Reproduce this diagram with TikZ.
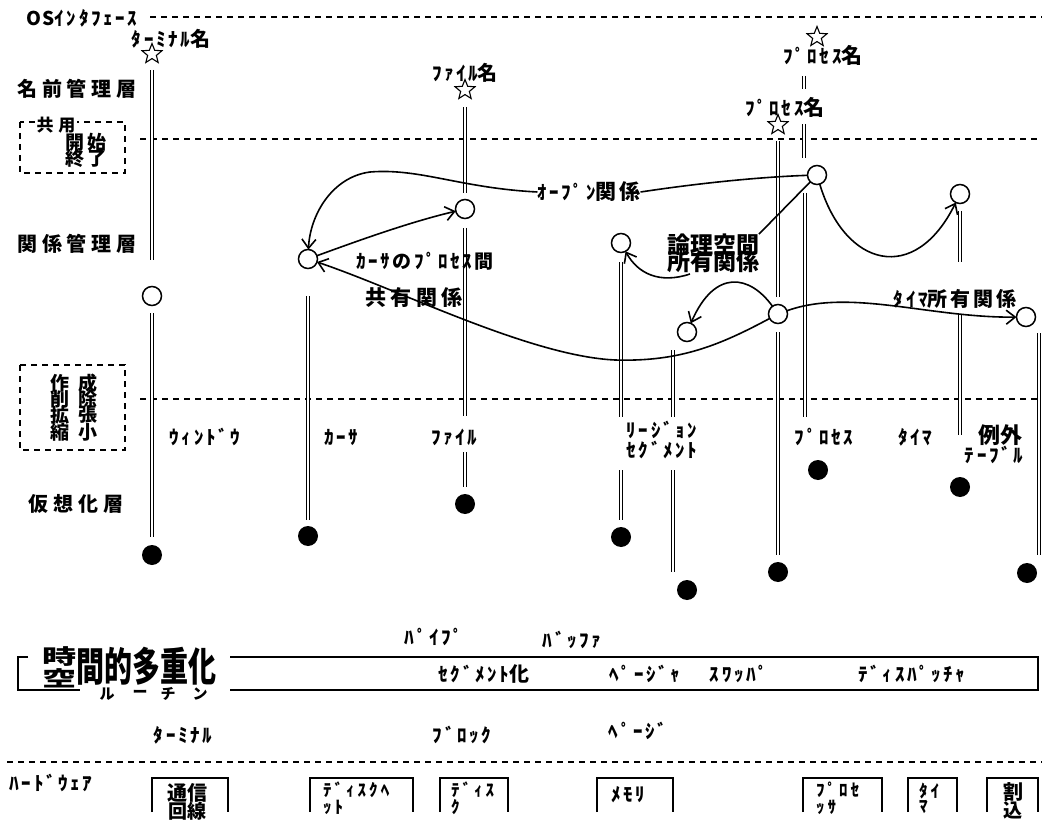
\documentclass[tikz,border=0pt]{standalone}
\usepackage{fontspec}
\newfontfamily\jp{Noto Sans CJK JP}
\usetikzlibrary{arrows.meta,shapes.geometric}
\newcommand\fsz[1]{\fontsize{#1}{#1}\selectfont}
\begin{document}
\begin{tikzpicture}[x=1pt,y=-1pt,
  every node/.style={inner sep=0pt, outer sep=0pt},
  dsh/.style={line width=1.6pt, dash pattern=on 6pt off 5pt},
  dl/.style={double, line width=1.2pt, double distance=2.4pt},
  oc/.style={circle, draw, line width=1.5pt, minimum size=19pt},
  fc/.style={circle, fill, minimum size=20pt},
  st/.style={star, star points=5, star point ratio=2.3, draw, line width=1.1pt, minimum size=21pt},
  crv/.style={line width=1.6pt},
  arr/.style={line width=1.6pt, -{Straight Barb[length=9pt,width=14pt]}},
  bl/.style={line width=1.6pt},
  kn/.style={font=\jp\bfseries\fsz{19}\addfontfeatures{LetterSpace=14}},
  kns/.style={font=\jp\bfseries\fsz{17}\addfontfeatures{LetterSpace=18}},
  lay/.style={font=\jp\bfseries\fsz{20}\addfontfeatures{LetterSpace=24}},
  kj/.style={font=\jp\bfseries\fsz{#1}},
  kjs/.style={font=\jp\bfseries\fsz{#1}\addfontfeatures{LetterSpace=20}},
]
\useasboundingbox (0,0) rectangle (1042,821);
\clip (0,0) rectangle (1042,821);
\fill[white] (0,0) rectangle (1042,821);

% ---- horizontal dashed layer lines
\draw[dsh] (150,17) -- (1042,17);
\draw[dsh] (140,139) -- (1042,139);
\draw[dsh] (140,399) -- (1042,399);
\draw[dsh] (7,762) -- (1042,762);

% ---- layer labels
\node[kn] (os) at (82,18) {{\addfontfeatures{LetterSpace=4}OS}ｲﾝﾀﾌｪｰｽ};
\node[lay] (L1) at (77,89) {名前管理層};
\node[lay] (L2) at (77,244) {関係管理層};
\node[lay] (L3) at (76,504) {仮想化層};

% dashed box 1
\draw[dsh] (20,122) rectangle (125,173);
\node[kj=17, fill=white, inner sep=1pt] (k1) at (56,125) {共\kern5pt 用};
\node[kj=19] (k2) at (86,142) {開\kern4pt 始};
\node[kj=19] (k3) at (86,158) {終\kern4pt 了};

% dashed box 2
\draw[dsh] (20,365) rectangle (125,450);
\foreach \a/\b/\yy [count=\i] in {作/成/383, 削/除/399, 拡/張/415, 縮/小/432}{
  \node[kj=19] (ca\i) at (60,\yy) {\a};
  \node[kj=19] (cb\i) at (88,\yy) {\b};
}

% ---- stars, circles
\node[st] (s1) at (152,54) {};
\node[st] (s3) at (465,90) {};
\node[st] (s6) at (778,125) {};
\node[st] (s7) at (817,37) {};

\node[oc] (oc1) at (152,296) {};
\node[oc] (cur) at (308,259) {};
\node[oc] (fileC) at (465,209) {};
\node[oc] (regC) at (621,243) {};
\node[oc] (segC) at (687,332) {};
\node[oc] (p1) at (778,314) {};
\node[oc] (p2) at (817,175) {};
\node[oc] (tmC) at (960,194) {};
\node[oc] (exC) at (1026,317) {};

\node[fc] (fc1) at (152,555) {};
\node[fc] (fc2) at (308,536) {};
\node[fc] (fc3) at (465,504) {};
\node[fc] (fc4) at (621,537) {};
\node[fc] (fc5) at (687,590) {};
\node[fc] (fc6) at (778,572) {};
\node[fc] (fc7) at (818,470) {};
\node[fc] (fc8) at (960,487) {};
\node[fc] (fc9) at (1027,573) {};

% ---- vertical double lines
\draw[dl, shorten <=16pt, shorten >=36pt] (s1.center) -- (oc1.center);
\draw[dl, shorten <=17pt, shorten >=18pt] (oc1.center) -- (fc1.center);
\draw[dl, shorten <=37pt, shorten >=16pt] (cur.center) -- (fc2.center);
\draw[dl, shorten <=17pt, shorten >=16pt] (s3.center) -- (fileC.center);
\draw[dl, shorten <=19pt, shorten >=88pt] (fileC.center) -- (fc3.center);
\draw[dl, shorten <=243pt, shorten >=17pt] (fileC.center) -- (fc3.center);
\draw[dl, shorten <=19pt, shorten >=120pt] (regC.center) -- (fc4.center);
\draw[dl, shorten <=227pt, shorten >=17pt] (regC.center) -- (fc4.center);
\draw[dl] (673,350) -- (673,417);
\draw[dl] (673,470) -- (673,572);
\draw[dl, shorten <=16pt, shorten >=17pt] (s6.center) -- (p1.center);
\draw[dl, shorten <=18pt, shorten >=17pt] (p1.center) -- (fc6.center);
\draw[dl] (804,76) -- (804,89);
\draw[dl] (804,124) -- (804,158);
\draw[dl] (805,193) -- (805,417);
\draw[dl, shorten <=17pt, shorten >=225pt] (tmC.center) -- (fc8.center);
\draw[dl, shorten <=121pt, shorten >=52pt] (tmC.center) -- (fc8.center);
\draw[dl] (1039,333) -- (1039,555);

% ---- name labels
\node[kn] (tn) at (171,39) {ﾀｰﾐﾅﾙ{\fsz{20}名}};
\node[kn] (fn) at (465,73) {ﾌｧｲﾙ{\fsz{20}名}};
\node[kn] (pn1) at (823,55) {ﾌﾟﾛｾｽ{\fsz{21}名}};
\node[kn] (pn2) at (785,107) {ﾌﾟﾛｾｽ{\fsz{21}名}};

% ---- relation labels
\node[kn] (lOpen) at (589,192) {ｵｰﾌﾟﾝ{\fsz{21}関係}};
\node[kn] (lCur) at (425,261) {ｶｰｻ{\fsz{19}の}ﾌﾟﾛｾｽ{\fsz{19}間}};
\node[kjs=21] (lShare) at (414,298) {共有関係};
\node[kj=23] (lr1) at (713,245) {論理空間};
\node[kj=23] (lr2) at (713,262) {所有関係};
\node[kn] (lTm) at (955,299) {ﾀｲﾏ{\fsz{20}所有関係}};
\coordinate (lrs) at (690,274);

% ---- relation curves
\draw[crv] (p2) .. controls (760,177) and (700,183) .. (lOpen.east);
\draw[arr] (lOpen.west) .. controls (460,188) and (420,168) .. (370,172) .. controls (332,177) and (310,215) .. (cur);
\draw[arr] (cur) .. controls (360,240) and (410,222) .. (fileC);
\draw[arr] (p1) .. controls (720,345) and (680,362) .. (615,360) .. controls (530,356) and (400,290) .. (cur);
\draw[arr] (p1) .. controls (750,275) and (715,268) .. (segC);
\draw[crv] (p2) -- (lr1.north east);
\draw[arr] (lrs) .. controls (660,284) and (638,274) .. (regC);
\draw[arr] (p2) .. controls (845,268) and (915,285) .. (tmC);
\draw[arr] (p1) .. controls (850,288) and (930,318) .. (exC);

% ---- column labels
\node[kn] (w) at (205,437) {ｳｨﾝﾄﾞｳ};
\node[kn] (c) at (341,437) {ｶｰｻ};
\node[kn] (f) at (454,437) {ﾌｧｲﾙ};
\node[kn] (rg) at (662,430) {ﾘｰｼﾞｮﾝ};
\node[kn] (sg) at (662,450) {ｾｸﾞﾒﾝﾄ};
\node[kn] (pr) at (824,437) {ﾌﾟﾛｾｽ};
\node[kn] (tm) at (915,437) {ﾀｲﾏ};
\node[kj=22] (ex) at (1000,435) {例外};
\node[kn] (tb) at (994,455) {ﾃｰﾌﾞﾙ};

% ---- multiplexing band
\draw[bl] (28,657) -- (18,657) -- (18,690) -- (80,690);
\draw[bl] (230,657) -- (1038,657) -- (1038,690) -- (230,690);
\node (t1) at (60,657) {\jp\bfseries\fsz{38}\scalebox{0.9}[0.55]{時}};
\node (t2) at (60,678) {\jp\bfseries\fsz{38}\scalebox{0.9}[0.55]{空}};
\node (t3) at (146,666) {\jp\bfseries\fsz{40}\scalebox{0.7}[1]{間的多重化}};
\foreach \ch/\xx [count=\i] in {ル/107,ー/140,チ/168,ン/200}
  \node[kj=15] (r\i) at (\xx,694) {\ch};

\node[kn] (pipe) at (434,637) {ﾊﾟｲﾌﾟ};
\node[kn] (buf) at (572,640) {ﾊﾞｯﾌｧ};
\node[kn] (segz) at (484,674) {ｾｸﾞﾒﾝﾄ{\fsz{20}化}};
\node[kn] (pgr) at (645,674) {ﾍﾟｰｼﾞｬ};
\node[kn] (swp) at (739,674) {ｽﾜｯﾊﾟ};
\node[kn] (dsp) at (912,674) {ﾃﾞｨｽﾊﾟｯﾁｬ};
\node[kn] (trm) at (183,735) {ﾀｰﾐﾅﾙ};
\node[kn] (blk) at (462,735) {ﾌﾞﾛｯｸ};
\node[kn] (pg) at (638,731) {ﾍﾟｰｼﾞ};

% ---- hardware
\node[kn] (hw) at (51,783) {ﾊｰﾄﾞｳｪｱ};
\draw[bl] (152,812) |- (228,778) -- (228,812);
\node[kj=20] (h1a) at (187,793) {通信};
\node[kj=19] (h1b) at (187,811) {回線};
\draw[bl] (310,812) |- (413,778) -- (413,812);
\node[kns, anchor=west] (h2a) at (323,790) {ﾃﾞｨｽｸﾍ};
\node[kns, anchor=west] (h2b) at (323,807) {ｯﾄ};
\draw[bl] (440,812) |- (508,778) -- (508,812);
\node[kns, anchor=west] (h3a) at (451,790) {ﾃﾞｨｽ};
\node[kns, anchor=west] (h3b) at (451,807) {ｸ};
\draw[bl] (597,812) |- (673,778) -- (673,812);
\node[kn] (h4) at (628,795) {ﾒﾓﾘ};
\draw[bl] (803,812) |- (882,778) -- (882,812);
\node[kns, anchor=west] (h5a) at (816,790) {ﾌﾟﾛｾ};
\node[kns, anchor=west] (h5b) at (816,807) {ｯｻ};
\draw[bl] (908,812) |- (957,778) -- (957,812);
\node[kns, anchor=west] (h6a) at (919,791) {ﾀｲ};
\node[kns, anchor=west] (h6b) at (919,807) {ﾏ};
\draw[bl] (987,812) |- (1038,778) -- (1038,812);
\node[kj=20] (h7a) at (1013,792) {割};
\node[kj=19] (h7b) at (1013,810) {込};
\end{tikzpicture}
\end{document}
